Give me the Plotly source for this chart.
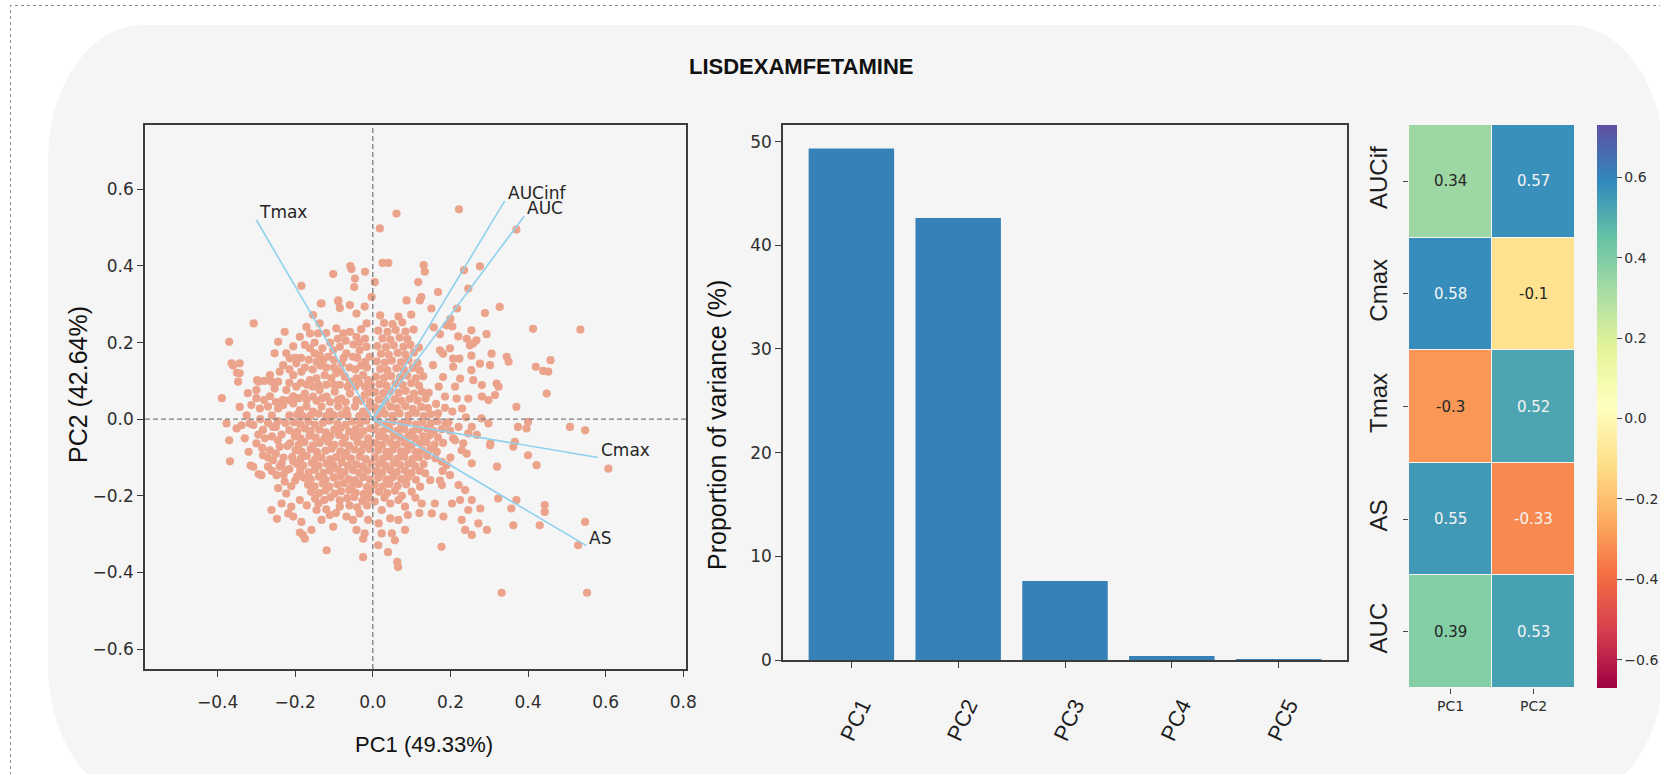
import plotly.graph_objects as go
from plotly.colors import diverging

W, H = 1660, 774

# ---------------- data ----------------
title_text = "LISDEXAMFETAMINE"
x_title = "PC1 (49.33%)"
y_title = "PC2 (42.64%)"
bar_y_title = "Proportion of variance (%)"

variables = ["AUCinf", "AUC", "Tmax", "Cmax", "AS"]
loading_pc1 = [0.34, 0.39, -0.30, 0.58, 0.55]
loading_pc2 = [0.57, 0.53, 0.52, -0.10, -0.33]

pcs = ["PC1", "PC2", "PC3", "PC4", "PC5"]
variance_pct = [49.33, 42.64, 7.62, 0.39, 0.02]

heat_rows = ["AUCif", "Cmax", "Tmax", "AS", "AUC"]
heat_cols = ["PC1", "PC2"]
heat_pc1 = [0.34, 0.58, -0.30, 0.55, 0.39]
heat_pc2 = [0.57, -0.10, 0.52, -0.33, 0.53]

scatter_xticks = [-0.4, -0.2, 0.0, 0.2, 0.4, 0.6, 0.8]
scatter_yticks = [-0.6, -0.4, -0.2, 0.0, 0.2, 0.4, 0.6]
bar_yticks = [0, 10, 20, 30, 40, 50]
cbar_ticks = [-0.6, -0.4, -0.2, 0.0, 0.2, 0.4, 0.6]

# PCA scores, region by region (PC1, PC2)
scores_top = [
    (0.061, 0.537), (0.222, 0.548), (0.018, 0.498), (0.37, 0.495), (0.025, 0.408), (0.04, 0.408),
    (-0.058, 0.40), (-0.055, 0.392), (-0.02, 0.385), (-0.102, 0.379), (0.131, 0.402), (0.134, 0.385),
    (0.235, 0.389), (0.276, 0.399), (-0.184, 0.348), (0.005, 0.358), (-0.046, 0.367), (-0.048, 0.345),
    (0.117, 0.358), (0.246, 0.341), (0.168, 0.332), (0.121, 0.31), (-0.003, 0.319), (-0.089, 0.31),
    (0.087, 0.31), (0.125, 0.319), (-0.134, 0.302), (0.327, 0.293), (0.289, 0.277), (0.151, 0.289),
    (0.217, 0.289), (0.2, 0.262),
]
scores_upper_left = [
    (-0.132, 0.302), (-0.089, 0.307), (-0.059, 0.298), (-0.042, 0.276), (-0.021, 0.294), (-0.016, 0.25),
    (-0.307, 0.25), (-0.227, 0.228), (-0.171, 0.241), (-0.162, 0.224), (-0.188, 0.215), (-0.141, 0.224),
    (-0.094, 0.237), (-0.076, 0.224), (-0.059, 0.228), (-0.042, 0.215), (-0.244, 0.202),
    (-0.175, 0.194), (-0.162, 0.185), (-0.15, 0.172), (-0.253, 0.172), (-0.223, 0.172), (-0.214, 0.159),
    (-0.137, 0.167), (-0.128, 0.154), (-0.115, 0.163), (-0.102, 0.18), (-0.085, 0.189), (-0.068, 0.172),
    (-0.051, 0.163), (-0.034, 0.18), (-0.016, 0.189), (-0.008, 0.163),
    (-0.231, 0.141), (-0.197, 0.146), (-0.265, 0.115), (-0.24, 0.124), (-0.298, 0.102),
    (-0.205, 0.115), (-0.184, 0.124), (-0.162, 0.102), (-0.145, 0.107), (-0.124, 0.115), (-0.107, 0.107),
    (-0.094, 0.12), (-0.072, 0.111), (-0.059, 0.098), (-0.042, 0.107), (-0.025, 0.115), (-0.012, 0.102),
    (-0.3, 0.076), (-0.253, 0.08), (-0.223, 0.076),
    (-0.197, 0.085), (-0.175, 0.067), (-0.154, 0.059), (-0.137, 0.076), (-0.119, 0.059), (-0.098, 0.072),
    (-0.081, 0.054), (-0.059, 0.067), (-0.042, 0.05), (-0.021, 0.063), (-0.008, 0.046),
    (-0.313, 0.037), (-0.291, 0.028), (-0.27, 0.033), (-0.244, 0.028), (-0.231, 0.037),
    (-0.205, 0.041), (-0.188, 0.024), (-0.171, 0.033), (-0.154, 0.02), (-0.132, 0.033), (-0.111, 0.02),
    (-0.089, 0.033), (-0.068, 0.024), (-0.046, 0.033), (-0.025, 0.02), (-0.008, 0.033),
    (-0.11, 0.2), (-0.12, 0.135), (-0.08, 0.145), (-0.06, 0.135), (-0.03, 0.14), (-0.045, 0.085),
    (-0.02, 0.085), (-0.1, 0.09), (-0.14, 0.09), (-0.17, 0.05), (-0.11, 0.045), (-0.065, 0.01),
    (-0.12, 0.008), (-0.18, 0.008), (-0.035, 0.2), (-0.07, 0.205), (-0.13, 0.185), (-0.185, 0.16),
    (-0.205, 0.19), (-0.265, 0.06), (-0.28, 0.1), (-0.154, 0.272), (-0.137, 0.25), (-0.085, 0.29),
]
scores_upper_left_fill = [
    (-0.195, 0.012), (-0.16, 0.01), (-0.14, 0.014), (-0.1, 0.01), (-0.08, 0.012), (-0.035, 0.008), (-0.015, 0.012),
    (-0.215, 0.05), (-0.19, 0.055), (-0.145, 0.048), (-0.13, 0.055), (-0.09, 0.05), (-0.07, 0.045), (-0.03, 0.048),
    (-0.01, 0.07), (-0.215, 0.095), (-0.17, 0.09), (-0.155, 0.085), (-0.12, 0.09), (-0.085, 0.09), (-0.065, 0.085),
    (-0.035, 0.095), (-0.005, 0.09), (-0.215, 0.13), (-0.175, 0.135), (-0.155, 0.13), (-0.135, 0.14), (-0.1, 0.135),
    (-0.085, 0.125), (-0.045, 0.13), (-0.015, 0.135), (-0.2, 0.16), (-0.165, 0.155), (-0.145, 0.15), (-0.1, 0.155),
    (-0.075, 0.16), (-0.04, 0.16), (-0.02, 0.15), (-0.15, 0.2), (-0.09, 0.21), (-0.05, 0.195), (-0.02, 0.21),
    (-0.12, 0.225), (-0.03, 0.235),
]
scores_far_left = [
    (-0.37, 0.202), (-0.364, 0.146), (-0.343, 0.146), (-0.343, 0.12), (-0.347, 0.098), (-0.295, 0.098),
    (-0.261, 0.098), (-0.244, 0.098), (-0.389, 0.055), (-0.377, -0.011), (-0.37, -0.055), (-0.368, -0.11),
    (-0.315, -0.121), (-0.294, -0.143), (-0.322, 0.068), (-0.35, 0.121), (-0.343, 0.032),
    (-0.351, -0.024), (-0.338, -0.016), (-0.317, -0.011), (-0.36, 0.14),
]
scores_left_mid = [
    (-0.225, -0.01), (-0.235, -0.04), (-0.22, -0.07), (-0.23, -0.1), (-0.215, 0.01), (-0.232, 0.05),
    (-0.215, -0.13), (-0.25, -0.02), (-0.26, 0.01), (-0.205, 0.06), (-0.185, 0.095), (-0.2, -0.16),
    (-0.308, -0.015), (-0.283, -0.028), (-0.257, -0.02), (-0.3, -0.063), (-0.278, -0.05), (-0.265, -0.081),
    (-0.24, -0.072), (-0.283, -0.094), (-0.257, -0.107), (-0.27, -0.124), (-0.24, -0.124), (-0.308, -0.124),
    (-0.287, -0.146), (-0.248, -0.146), (-0.223, -0.133), (-0.227, -0.163), (-0.244, -0.18), (-0.223, -0.194),
    (-0.29, 0.0), (-0.27, -0.01), (-0.245, -0.005), (-0.295, -0.04), (-0.26, -0.045), (-0.245, -0.055),
    (-0.285, -0.075), (-0.25, -0.09), (-0.27, -0.1), (-0.235, -0.115), (-0.26, -0.135), (-0.23, -0.145),
    (-0.21, -0.175), (-0.195, -0.15), (-0.205, -0.11), (-0.28, 0.05), (-0.3, 0.055), (-0.25, 0.045),
    (-0.325, 0.01), (-0.33, -0.05), (-0.32, -0.085),
]
scores_lower_left = [
    (-0.204, -0.008), (-0.187, -0.013), (-0.166, -0.006), (-0.149, -0.014), (-0.128, -0.009), (-0.111, -0.004),
    (-0.091, -0.012), (-0.07, -0.015), (-0.053, -0.006), (-0.033, -0.011), (-0.017, -0.004),
    (-0.215, -0.029), (-0.195, -0.033), (-0.175, -0.024), (-0.16, -0.031), (-0.138, -0.027), (-0.121, -0.034),
    (-0.099, -0.027), (-0.083, -0.023), (-0.061, -0.032), (-0.044, -0.026), (-0.024, -0.031), (-0.006, -0.024),
    (-0.201, -0.045), (-0.186, -0.05), (-0.163, -0.043), (-0.147, -0.048), (-0.125, -0.051), (-0.109, -0.044),
    (-0.087, -0.041), (-0.072, -0.049), (-0.049, -0.046), (-0.033, -0.042), (-0.012, -0.05),
    (-0.213, -0.063), (-0.191, -0.067), (-0.176, -0.06), (-0.154, -0.068), (-0.137, -0.062), (-0.115, -0.059),
    (-0.099, -0.067), (-0.078, -0.063), (-0.061, -0.069), (-0.039, -0.06), (-0.023, -0.066), (-0.003, -0.061),
    (-0.199, -0.081), (-0.183, -0.085), (-0.16, -0.078), (-0.144, -0.086), (-0.122, -0.082), (-0.106, -0.077),
    (-0.084, -0.084), (-0.068, -0.087), (-0.047, -0.079), (-0.03, -0.083), (-0.009, -0.078),
    (-0.208, -0.099), (-0.186, -0.103), (-0.17, -0.096), (-0.148, -0.104), (-0.132, -0.1), (-0.11, -0.105),
    (-0.094, -0.099), (-0.073, -0.096), (-0.056, -0.103), (-0.034, -0.098), (-0.018, -0.104),
    (-0.195, -0.117), (-0.179, -0.121), (-0.157, -0.114), (-0.14, -0.122), (-0.119, -0.116), (-0.102, -0.12),
    (-0.08, -0.113), (-0.064, -0.121), (-0.043, -0.118), (-0.026, -0.123), (-0.005, -0.115),
    (-0.187, -0.135), (-0.165, -0.139), (-0.149, -0.132), (-0.127, -0.14), (-0.111, -0.134), (-0.09, -0.131),
    (-0.073, -0.138), (-0.051, -0.133), (-0.035, -0.14), (-0.014, -0.134),
    (-0.177, -0.153), (-0.16, -0.157), (-0.139, -0.15), (-0.122, -0.158), (-0.101, -0.152), (-0.084, -0.149),
    (-0.063, -0.156), (-0.046, -0.159), (-0.025, -0.151), (-0.008, -0.157),
    (-0.167, -0.171), (-0.15, -0.175), (-0.129, -0.168), (-0.112, -0.176), (-0.091, -0.17), (-0.074, -0.167),
    (-0.053, -0.174), (-0.036, -0.169), (-0.015, -0.177),
    (-0.159, -0.189), (-0.139, -0.193), (-0.122, -0.186), (-0.099, -0.194), (-0.082, -0.188), (-0.061, -0.185),
    (-0.044, -0.192), (-0.023, -0.195), (-0.006, -0.187),
    (-0.149, -0.207), (-0.125, -0.211), (-0.109, -0.204), (-0.085, -0.212), (-0.066, -0.206), (-0.048, -0.203),
    (-0.027, -0.213), (-0.011, -0.205),
]
scores_bottom_left = [
    (-0.235, -0.22), (-0.261, -0.237), (-0.21, -0.228), (-0.188, -0.211), (-0.184, -0.268), (-0.205, -0.254),
    (-0.218, -0.246), (-0.18, -0.302), (-0.158, -0.289), (-0.145, -0.237), (-0.132, -0.263), (-0.111, -0.25),
    (-0.102, -0.281), (-0.085, -0.228), (-0.068, -0.254), (-0.051, -0.263), (-0.034, -0.246), (-0.012, -0.263),
    (-0.042, -0.289), (-0.021, -0.298), (-0.247, -0.26), (-0.188, -0.296), (-0.175, -0.312), (-0.119, -0.342),
    (-0.025, -0.312), (-0.025, -0.36), (0.039, -0.347), (0.065, -0.386), (0.063, -0.372), (0.014, -0.329),
    (0.057, -0.316), (-0.17, -0.225), (-0.14, -0.22), (-0.12, -0.235), (-0.095, -0.245), (-0.06, -0.225),
    (-0.04, -0.23), (-0.015, -0.225), (0.005, -0.215), (0.03, -0.205), (0.075, -0.2), (0.11, -0.205),
    (0.09, -0.25), (0.12, -0.245),
]
scores_upper_right = [
    (0.012, 0.011), (0.031, 0.014), (0.051, 0.009), (0.069, 0.015), (0.092, 0.01), (0.111, 0.016),
    (0.131, 0.008), (0.149, 0.013),
    (0.005, 0.031), (0.023, 0.028), (0.045, 0.033), (0.062, 0.029), (0.084, 0.034), (0.103, 0.027),
    (0.125, 0.032), (0.142, 0.029),
    (0.015, 0.051), (0.033, 0.047), (0.056, 0.052), (0.074, 0.048), (0.095, 0.053), (0.115, 0.049), (0.136, 0.054),
    (0.006, 0.071), (0.027, 0.068), (0.045, 0.073), (0.067, 0.069), (0.085, 0.074), (0.106, 0.067),
    (0.126, 0.072), (0.144, 0.069),
    (0.017, 0.091), (0.035, 0.088), (0.058, 0.093), (0.077, 0.089), (0.099, 0.094), (0.119, 0.088),
    (0.008, 0.111), (0.029, 0.108), (0.047, 0.113), (0.07, 0.109), (0.089, 0.114), (0.111, 0.107), (0.13, 0.112),
    (0.019, 0.131), (0.037, 0.128), (0.061, 0.133), (0.08, 0.129), (0.103, 0.134), (0.121, 0.127),
    (0.01, 0.151), (0.031, 0.148), (0.049, 0.153), (0.073, 0.149), (0.092, 0.154), (0.115, 0.147),
    (0.021, 0.171), (0.041, 0.168), (0.064, 0.173), (0.084, 0.169), (0.106, 0.174),
    (0.012, 0.191), (0.034, 0.188), (0.054, 0.193), (0.079, 0.189), (0.097, 0.194), (0.119, 0.187),
    (0.025, 0.211), (0.045, 0.208), (0.069, 0.213), (0.089, 0.209),
    (0.014, 0.231), (0.038, 0.228), (0.059, 0.233), (0.084, 0.229), (0.105, 0.234),
    (0.029, 0.251), (0.051, 0.248), (0.076, 0.253),
    (0.019, 0.271), (0.066, 0.268), (0.099, 0.273),
]
scores_right_upper = [
    (0.413, 0.236), (0.535, 0.234), (0.157, 0.24), (0.173, 0.222), (0.19, 0.245), (0.205, 0.242),
    (0.22, 0.216), (0.242, 0.21), (0.254, 0.232), (0.293, 0.222), (0.267, 0.206), (0.259, 0.198),
    (0.25, 0.193), (0.173, 0.18), (0.199, 0.185), (0.181, 0.171), (0.207, 0.158), (0.223, 0.158),
    (0.254, 0.166), (0.276, 0.145), (0.306, 0.171), (0.302, 0.141), (0.345, 0.163), (0.35, 0.15),
    (0.42, 0.137), (0.439, 0.126), (0.452, 0.124), (0.458, 0.154), (0.155, 0.141), (0.181, 0.11),
    (0.207, 0.137), (0.225, 0.106), (0.254, 0.128), (0.259, 0.102), (0.281, 0.089), (0.319, 0.093),
    (0.324, 0.085), (0.212, 0.085), (0.216, 0.054), (0.246, 0.054), (0.281, 0.059), (0.315, 0.063),
    (0.298, 0.05), (0.186, 0.059), (0.163, 0.04), (0.186, 0.03), (0.168, 0.015), (0.205, 0.02),
    (0.23, 0.028), (0.24, 0.005), (0.17, 0.085), (0.28, 0.002),
]
scores_lower_right = [
    (0.014, -0.009), (0.035, -0.013), (0.052, -0.006), (0.073, -0.012), (0.09, -0.008), (0.111, -0.014),
    (0.128, -0.007), (0.149, -0.011), (0.166, -0.005), (0.187, -0.012),
    (0.005, -0.027), (0.026, -0.031), (0.043, -0.025), (0.064, -0.03), (0.081, -0.026), (0.102, -0.033),
    (0.119, -0.027), (0.14, -0.024), (0.157, -0.031), (0.178, -0.026), (0.199, -0.03),
    (0.016, -0.045), (0.033, -0.049), (0.054, -0.043), (0.071, -0.048), (0.092, -0.044), (0.109, -0.05),
    (0.13, -0.045), (0.147, -0.042), (0.168, -0.048),
    (0.007, -0.063), (0.024, -0.067), (0.045, -0.061), (0.062, -0.066), (0.083, -0.062), (0.1, -0.068),
    (0.121, -0.063), (0.138, -0.06), (0.159, -0.066), (0.181, -0.062),
    (0.014, -0.081), (0.035, -0.085), (0.052, -0.079), (0.073, -0.084), (0.09, -0.08), (0.111, -0.086),
    (0.128, -0.081), (0.149, -0.078),
    (0.005, -0.099), (0.026, -0.103), (0.043, -0.097), (0.064, -0.102), (0.081, -0.098), (0.102, -0.104),
    (0.119, -0.099), (0.14, -0.096), (0.161, -0.102),
    (0.016, -0.117), (0.033, -0.121), (0.054, -0.115), (0.071, -0.12), (0.092, -0.116), (0.109, -0.122),
    (0.131, -0.117),
    (0.007, -0.135), (0.024, -0.139), (0.045, -0.133), (0.062, -0.138), (0.083, -0.134), (0.1, -0.14),
    (0.121, -0.135),
    (0.014, -0.153), (0.035, -0.157), (0.052, -0.151), (0.073, -0.156), (0.09, -0.152), (0.111, -0.158),
    (0.005, -0.171), (0.026, -0.175), (0.043, -0.169), (0.064, -0.174), (0.086, -0.17),
    (0.016, -0.189), (0.037, -0.193), (0.057, -0.187),
]
scores_right_lower = [
    (0.195, -0.008), (0.221, -0.02), (0.255, -0.02), (0.298, -0.011), (0.212, -0.055), (0.246, -0.037),
    (0.229, -0.081), (0.268, -0.041), (0.303, -0.063), (0.255, -0.115), (0.32, -0.124), (0.199, -0.146),
    (0.178, -0.111), (0.165, -0.085), (0.221, -0.172), (0.238, -0.185), (0.204, -0.22), (0.225, -0.211),
    (0.255, -0.211), (0.246, -0.237), (0.277, -0.233), (0.16, -0.22), (0.152, -0.246), (0.182, -0.254),
    (0.229, -0.263), (0.238, -0.289), (0.272, -0.272), (0.294, -0.289), (0.255, -0.302), (0.126, -0.22),
    (0.1, -0.189), (0.122, -0.176), (0.083, -0.228), (0.066, -0.211), (0.045, -0.22), (0.023, -0.237),
    (0.045, -0.259), (0.015, -0.272), (0.066, -0.263), (0.083, -0.289), (0.049, -0.298), (0.023, -0.298),
    (0.178, -0.172), (0.148, -0.159), (0.135, -0.141), (0.302, -0.068), (0.323, -0.207),
    (0.207, -0.05), (0.233, -0.063), (0.242, -0.09), (0.19, -0.12), (0.2, -0.1), (0.18, -0.135), (0.173, -0.16),
]
scores_far_right = [
    (0.448, 0.067), (0.37, 0.032), (0.374, -0.02), (0.4, -0.007), (0.396, -0.024), (0.508, -0.02),
    (0.547, -0.029), (0.366, -0.059), (0.362, -0.072), (0.4, -0.094), (0.422, -0.12), (0.607, -0.129),
    (0.37, -0.211), (0.357, -0.233), (0.443, -0.224), (0.443, -0.242), (0.362, -0.277), (0.43, -0.277),
    (0.547, -0.268), (0.529, -0.329), (0.177, -0.333), (0.332, -0.453), (0.552, -0.453),
]

score_groups = [scores_top, scores_upper_left, scores_upper_left_fill, scores_far_left, scores_left_mid,
                scores_lower_left, scores_bottom_left, scores_upper_right, scores_right_upper,
                scores_lower_right, scores_right_lower, scores_far_right]
pc1_scores = [p[0] for g in score_groups for p in g]
pc2_scores = [p[1] for g in score_groups for p in g]

# ---------------- helpers (layout positions in pixels) ----------------
def px(x):
    return x / W

def py(y):
    return 1 - y / H

TICK_FONT = dict(family="DejaVu Sans", size=17, color="#2e2e2e")
LAB_FONT = "Liberation Sans, Arial, sans-serif"
FRAME = "#3c3c3c"

fig = go.Figure()

# scatter of scores
fig.add_trace(go.Scatter(
    x=pc1_scores, y=pc2_scores, mode="markers",
    marker=dict(color="#eca38b", size=8.2, line=dict(width=0)),
    xaxis="x", yaxis="y", hoverinfo="skip", showlegend=False))

# loading vectors
lx, ly = [], []
for a, b in zip(loading_pc1, loading_pc2):
    lx += [0, a, None]
    ly += [0, b, None]
fig.add_trace(go.Scatter(x=lx, y=ly, mode="lines", line=dict(color="#8fd1ee", width=1.6),
                         xaxis="x", yaxis="y", hoverinfo="skip", showlegend=False))

# bar chart
fig.add_trace(go.Bar(x=pcs, y=variance_pct, marker=dict(color="#3581b8", line=dict(width=0)),
                     width=0.8, xaxis="x2", yaxis="y2", hoverinfo="skip", showlegend=False))

# heatmap
spectral = diverging.Spectral
cscale = [[i / (len(spectral) - 1), c] for i, c in enumerate(spectral)]
zmin, zmax = -0.67, 0.73
z = [[a, b] for a, b in zip(heat_pc1, heat_pc2)]
fig.add_trace(go.Heatmap(
    z=z, x=heat_cols, y=heat_rows, colorscale=cscale, zmin=zmin, zmax=zmax,
    xgap=1, ygap=1, xaxis="x3", yaxis="y3", hoverinfo="skip",
    colorbar=dict(x=px(1597), xanchor="left", xpad=0, ypad=0,
                  y=py(406.5), yanchor="middle", len=563, lenmode="pixels",
                  thickness=20, thicknessmode="pixels", outlinewidth=0,
                  ticks="outside", ticklen=5, tickcolor="#444",
                  tickvals=cbar_ticks, tickformat=".1f",
                  tickfont=dict(family="DejaVu Sans", size=14, color="#2e2e2e"))))

def rgb_at(v):
    t = (v - zmin) / (zmax - zmin)
    t = min(max(t, 0), 1)
    n = len(spectral) - 1
    i = min(int(t * n), n - 1)
    f = t * n - i
    c0 = [int(s) for s in spectral[i][4:-1].split(",")]
    c1 = [int(s) for s in spectral[i + 1][4:-1].split(",")]
    return [c0[k] + (c1[k] - c0[k]) * f for k in range(3)]

def luminance(rgb):
    out = []
    for c in rgb:
        c = c / 255
        out.append(c / 12.92 if c <= 0.03928 else ((c + 0.055) / 1.055) ** 2.4)
    return 0.2126 * out[0] + 0.7152 * out[1] + 0.0722 * out[2]

annotations = []
for r, row in enumerate(heat_rows):
    for c, col in enumerate(heat_cols):
        v = z[r][c]
        color = "#262626" if luminance(rgb_at(v)) > 0.408 else "#f4f4f4"
        annotations.append(dict(x=col, y=row, xref="x3", yref="y3", text=f"{v:g}", showarrow=False,
                                font=dict(family="DejaVu Sans", size=15, color=color)))

# loading labels
for name, a, b in zip(variables, loading_pc1, loading_pc2):
    annotations.append(dict(x=a, y=b, xref="x", yref="y", text=name, showarrow=False,
                            xanchor="left", yanchor="bottom", yshift=-4, xshift=1,
                            font=dict(family="DejaVu Sans", size=17, color="#262626")))

# titles
annotations += [
    dict(x=px(801), y=py(66), xref="paper", yref="paper", text=f"<b>{title_text}</b>", showarrow=False,
         xanchor="center", yanchor="middle",
         font=dict(family="Liberation Sans Narrow, Liberation Sans, Arial", size=22, color="#111")),
    dict(x=px(424), y=py(744), xref="paper", yref="paper", text=x_title, showarrow=False,
         xanchor="center", yanchor="middle",
         font=dict(family=LAB_FONT, size=22, color="#111")),
    dict(x=px(78), y=py(385), xref="paper", yref="paper", text=y_title, showarrow=False, textangle=-90,
         xanchor="center", yanchor="middle",
         font=dict(family=LAB_FONT, size=25, color="#111")),
    dict(x=px(717), y=py(425), xref="paper", yref="paper", text=bar_y_title, showarrow=False, textangle=-90,
         xanchor="center", yanchor="middle",
         font=dict(family=LAB_FONT, size=25, color="#111")),
]

# background shapes
def rrect(x0, y0, x1, y1, rx, ry):
    k = 0.5523
    P = lambda x, y: f"{px(x):.5f},{py(y):.5f}"
    return (f"M {P(x0+rx, y0)} L {P(x1-rx, y0)} "
            f"C {P(x1-rx+k*rx, y0)} {P(x1, y0+ry-k*ry)} {P(x1, y0+ry)} "
            f"L {P(x1, y1-ry)} C {P(x1, y1-ry+k*ry)} {P(x1-rx+k*rx, y1)} {P(x1-rx, y1)} "
            f"L {P(x0+rx, y1)} C {P(x0+rx-k*rx, y1)} {P(x0, y1-ry+k*ry)} {P(x0, y1-ry)} "
            f"L {P(x0, y0+ry)} C {P(x0, y0+ry-k*ry)} {P(x0+rx-k*rx, y0)} {P(x0+rx, y0)} Z")

shapes = [
    dict(type="rect", xref="paper", yref="paper", x0=px(10.5), y0=py(780), x1=px(1670), y1=py(5.5),
         line=dict(color="#8a8a8a", width=1, dash="dot"), layer="below"),
    dict(type="path", xref="paper", yref="paper", path=rrect(48, 25, 1664, 800, 95, 135),
         fillcolor="#f5f5f5", line=dict(width=0), layer="below"),
    dict(type="line", xref="x domain", yref="y", x0=0, x1=1, y0=0, y1=0,
         line=dict(color="#7c7c7c", width=1.3, dash="5px,3px"), layer="above"),
    dict(type="line", xref="x", yref="y domain", x0=0, x1=0, y0=0, y1=1,
         line=dict(color="#7c7c7c", width=1.3, dash="5px,3px"), layer="above"),
]

axis_common = dict(showline=True, mirror=True, linecolor=FRAME, linewidth=1.6, showgrid=False,
                   zeroline=False, ticks="outside", ticklen=6, tickcolor=FRAME, automargin=False)

fig.update_layout(
    width=W, height=H, margin=dict(l=0, r=0, t=0, b=0),
    paper_bgcolor="white", plot_bgcolor="#f9f9f9",
    showlegend=False, hovermode=False,
    annotations=annotations, shapes=shapes,
    xaxis=dict(domain=[px(145), px(686)], anchor="y", range=[-0.587, 0.807],
               tickvals=scatter_xticks, tickformat=".1f", tickfont=TICK_FONT,
               ticklabelstandoff=11, **axis_common),
    yaxis=dict(domain=[py(669), py(125)], anchor="x", range=[-0.652, 0.768],
               tickvals=scatter_yticks, tickformat=".1f", tickfont=TICK_FONT, **axis_common),
    xaxis2=dict(domain=[px(783), px(1347)], anchor="y2", type="category", range=[-0.64, 4.64],
                tickangle=-65, tickfont=dict(family=LAB_FONT, size=22, color="#1e1e1e"),
                ticklabelstandoff=16, ticklabelshift=10, **axis_common),
    yaxis2=dict(domain=[py(660), py(125)], anchor="x2", range=[0, 51.6],
                tickvals=bar_yticks, tickfont=TICK_FONT, **axis_common),
    xaxis3=dict(domain=[px(1409), px(1575)], anchor="y3", type="category",
                showline=False, showgrid=False, zeroline=False, ticks="outside", ticklen=5,
                tickcolor="#444", automargin=False,
                tickfont=dict(family="DejaVu Sans", size=14, color="#2e2e2e")),
    yaxis3=dict(domain=[py(688), py(125)], anchor="x3", type="category", autorange="reversed",
                showline=False, showgrid=False, zeroline=False, ticks="outside", ticklen=5,
                tickcolor="#444", automargin=False, tickangle=-90, ticklabelstandoff=6,
                tickfont=dict(family=LAB_FONT, size=24, color="#1e1e1e")),
)

fig.write_html("out.html", config={"displayModeBar": False},
               post_script="document.body.style.margin='0';document.body.style.overflow='hidden';")
